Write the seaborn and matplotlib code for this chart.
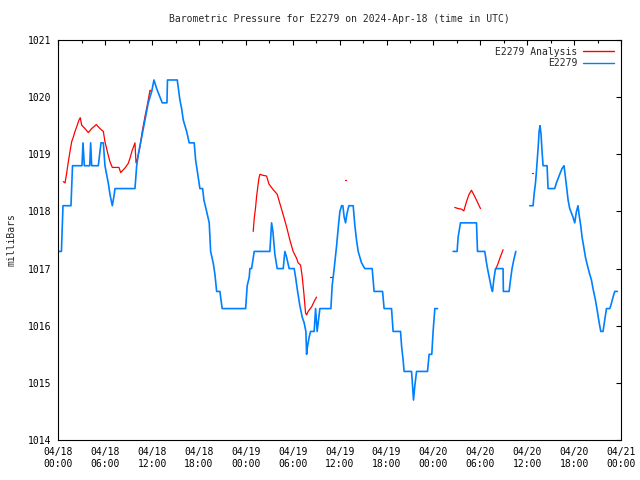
import numpy as np
import pandas as pd
import matplotlib
matplotlib.use("Agg")
import matplotlib.pyplot as plt
import matplotlib.dates as mdates
from matplotlib.lines import Line2D
import seaborn as sns

# hours after 2024-04-18 00:00 UTC, pressure in mb; NaN breaks the line
obs_hours = [
    0.1, 0.4, 0.6, 1.62, 1.82, 3.03, 3.16, 3.33, 4.02, 4.14, 4.27, 5.12, 5.46,
    5.76, 5.97, 6.39, 6.61, 6.91, 7.16, 7.25, 9.81, 10.03, 10.23, 10.67, 11.09,
    11.51, 11.95, 12.24, 12.58, 13.01, 13.30, 13.90, 13.97, 15.22, 15.56, 15.78,
    15.99, 16.42, 16.75, 17.39, 17.57, 17.90, 18.12, 18.47, 18.63, 18.98, 19.31,
    19.49, 19.82, 20.04, 20.26, 20.68, 20.77, 20.97, 23.97, 24.17, 24.43, 24.52,
    24.73, 25.07, 27.07, 27.29, 27.46, 27.71, 28.01, 28.78, 28.99, 29.21, 29.54,
    30.18, 30.36, 30.62, 30.91, 31.21, 31.46, 31.68, 31.77, 31.90, 32.10, 32.28,
    32.74, 32.92, 33.12, 33.47, 34.88, 35.04, 35.30, 35.61, 35.81, 36.03, 36.25,
    36.41, 36.58, 36.76, 36.92, 37.18, 37.73, 37.95, 38.16, 38.37, 38.80, 39.22,
    40.16, 40.41, 41.49, 41.69, 42.64, 42.84, 43.79, 43.92, 44.12, 44.25, 45.20,
    45.33, 45.45, 45.62, 45.84, 47.24, 47.45, 47.79, 47.96, 48.18, 48.52,
    49.5,
    50.52, 51.03, 51.16, 51.46, 53.51, 53.64, 54.57, 54.79, 54.99, 55.21, 55.43,
    55.56, 55.72, 55.94, 56.91, 56.95, 57.68, 57.86, 58.06, 58.28, 58.54,
    59.5,
    60.33, 60.75, 60.88, 61.06, 61.18, 61.31, 61.44, 61.52, 61.64, 61.77, 61.90,
    62.03, 62.54, 62.67, 63.52, 63.74, 64.16, 64.46, 64.71, 64.89, 65.02, 65.23,
    65.44, 65.86, 66.08, 66.30, 66.50, 66.63, 66.85, 67.02, 67.27, 67.45, 67.71,
    68.00, 68.22, 68.42, 68.73, 68.98, 69.15, 69.41, 69.70, 69.92, 70.14, 70.56,
    70.69, 70.98, 71.20, 71.54,
]
obs_mb = [
    1017.3, 1017.3, 1018.1, 1018.1, 1018.8, 1018.8, 1019.2, 1018.8, 1018.8,
    1019.2, 1018.8, 1018.8, 1019.2, 1019.2, 1018.8, 1018.5, 1018.3, 1018.1,
    1018.3, 1018.4, 1018.4, 1018.8, 1019.0, 1019.3, 1019.6, 1019.9, 1020.1,
    1020.3, 1020.15, 1020.0, 1019.9, 1019.9, 1020.3, 1020.3, 1019.95, 1019.8,
    1019.6, 1019.4, 1019.2, 1019.2, 1018.9, 1018.6, 1018.4, 1018.4, 1018.2,
    1018.0, 1017.8, 1017.3, 1017.1, 1016.9, 1016.6, 1016.6, 1016.5, 1016.3,
    1016.3, 1016.7, 1016.85, 1017.0, 1017.0, 1017.3, 1017.3, 1017.8, 1017.65,
    1017.25, 1017.0, 1017.0, 1017.3, 1017.2, 1017.0, 1017.0, 1016.85, 1016.6,
    1016.35, 1016.15, 1016.05, 1015.9, 1015.5, 1015.65, 1015.8, 1015.9, 1015.9,
    1016.3, 1015.9, 1016.3, 1016.3, 1016.7, 1017.0, 1017.4, 1017.7, 1018.0,
    1018.1, 1018.1, 1017.9, 1017.8, 1017.95, 1018.1, 1018.1, 1017.75, 1017.5,
    1017.3, 1017.1, 1017.0, 1017.0, 1016.6, 1016.6, 1016.3, 1016.3, 1015.9,
    1015.9, 1015.65, 1015.4, 1015.2, 1015.2, 1014.95, 1014.7, 1014.95, 1015.2,
    1015.2, 1015.5, 1015.5, 1015.9, 1016.3, 1016.3,
    np.nan,
    1017.3, 1017.3, 1017.55, 1017.8, 1017.8, 1017.3, 1017.3, 1017.1, 1016.95,
    1016.8, 1016.65, 1016.6, 1016.8, 1017.0, 1017.0, 1016.6, 1016.6, 1016.8,
    1017.0, 1017.15, 1017.3,
    np.nan,
    1018.1, 1018.1, 1018.3, 1018.5, 1018.7, 1018.95, 1019.2, 1019.4, 1019.5,
    1019.35, 1019.05, 1018.8, 1018.8, 1018.4, 1018.4, 1018.5, 1018.65, 1018.75,
    1018.8, 1018.6, 1018.45, 1018.2, 1018.05, 1017.9, 1017.8, 1018.0, 1018.1,
    1017.95, 1017.75, 1017.55, 1017.35, 1017.2, 1017.05, 1016.9, 1016.8,
    1016.65, 1016.45, 1016.25, 1016.1, 1015.9, 1015.9, 1016.1, 1016.3, 1016.3,
    1016.35, 1016.5, 1016.6, 1016.6,
]

ana_hours = [
    0.64, 0.86, 1.07, 1.28, 1.50, 1.71, 1.92, 2.14, 2.35, 2.65, 2.81, 2.99,
    3.41, 3.84, 4.27, 4.86, 5.33, 5.76, 5.97, 6.32, 6.61, 6.91, 7.76, 7.98,
    8.53, 8.95, 9.17, 9.46, 9.81, 9.94, 10.15, 10.45, 10.74, 11.09, 11.43,
    11.73, 11.95,
    18.0,
    24.94, 25.07, 25.25, 25.37, 25.50, 25.67, 25.80, 26.22, 26.65, 26.95,
    27.50, 28.01, 28.35, 28.78, 29.21, 29.63, 30.05, 30.49, 30.69, 31.00,
    31.21, 31.42, 31.64, 31.77, 31.97, 32.41, 32.83, 33.05,
    34.0, 34.75, 35.0, 36.0, 36.66, 36.76,
    44.0,
    50.73, 51.16, 51.59, 51.89, 52.23, 52.56, 52.87, 53.29, 53.71, 54.02,
    55.0, 55.98, 56.27, 56.58, 56.91,
    58.0, 60.67, 60.76,
]
ana_mb = [
    1018.52, 1018.5, 1018.67, 1018.87, 1019.05, 1019.22, 1019.3, 1019.4,
    1019.48, 1019.6, 1019.64, 1019.51, 1019.45, 1019.38, 1019.45, 1019.52,
    1019.45, 1019.4, 1019.22, 1019.02, 1018.87, 1018.77, 1018.77, 1018.68,
    1018.76, 1018.84, 1018.93, 1019.07, 1019.2, 1018.85, 1018.93, 1019.13,
    1019.4, 1019.66, 1019.89, 1020.12, 1020.1,
    np.nan,
    1017.65, 1017.88, 1018.08, 1018.26, 1018.4, 1018.58, 1018.65, 1018.63,
    1018.62, 1018.48, 1018.38, 1018.3, 1018.14, 1017.94, 1017.73, 1017.5,
    1017.3, 1017.18, 1017.1, 1017.06, 1016.86, 1016.57, 1016.22, 1016.19,
    1016.25, 1016.33, 1016.45, 1016.5,
    np.nan, 1016.85, 1016.85, np.nan, 1018.55, 1018.55,
    np.nan,
    1018.07, 1018.05, 1018.04, 1018.01, 1018.17, 1018.3, 1018.37, 1018.26,
    1018.14, 1018.05,
    np.nan, 1016.99, 1017.09, 1017.21, 1017.33,
    np.nan, 1018.67, 1018.67,
]

series_names = ["E2279 Analysis", "E2279"]
series_colors = ["#ff0000", "#0080ff"]

start = pd.Timestamp("2024-04-18 00:00")


def to_frame(hours, values):
    df = pd.DataFrame({"hour": hours, "mb": values})
    df["seg"] = df["mb"].isna().cumsum()
    df["time"] = start + pd.to_timedelta(df["hour"], unit="h")
    return df.dropna()


ana = to_frame(ana_hours, ana_mb)
obs = to_frame(obs_hours, obs_mb)

sns.set_style("white")
plt.rcParams["font.family"] = ["DejaVu Sans Mono"]
plt.rcParams["font.size"] = 7

fig = plt.figure(figsize=(6.4, 4.8), dpi=100)
ax = fig.add_axes([0.0911, 0.0833, 0.8792, 0.8334])

widths = [0.9, 1.2]
for df, col, lw in zip([ana, obs], series_colors, widths):
    sns.lineplot(data=df, x="time", y="mb", units="seg", estimator=None,
                 color=col, linewidth=lw, ax=ax, legend=False)

ax.set_xlim(start, start + pd.Timedelta(hours=72))
ax.set_ylim(1014, 1021)
ax.set_yticks(range(1014, 1022))
ax.xaxis.set_major_locator(mdates.HourLocator(byhour=[0, 6, 12, 18]))
ax.xaxis.set_minor_locator(mdates.HourLocator(byhour=[3, 9, 15, 21]))
ax.xaxis.set_major_formatter(mdates.DateFormatter("%m/%d\n%H:%M"))

for s in ax.spines.values():
    s.set_color("black")
    s.set_linewidth(0.8)
ax.tick_params(which="both", direction="in", top=True, right=True,
               color="black", width=0.8, labelsize=7, labelcolor="black")
ax.tick_params(which="major", length=3.6, pad=5)
ax.tick_params(which="minor", length=2)

ax.set_xlabel("")
ax.set_ylabel("milliBars", fontsize=7, labelpad=8)
ax.set_title("Barometric Pressure for E2279 on 2024-Apr-18 (time in UTC)",
             fontsize=7, pad=13)

handles = [Line2D([], [], color=c, linewidth=1.0) for c in series_colors]
ax.legend(handles, series_names, loc="upper right", frameon=False,
          markerfirst=False, fontsize=7, handlelength=3.2, borderaxespad=0.3,
          labelspacing=0.15, handletextpad=0.6)

fig.savefig("out.png", dpi=100)
